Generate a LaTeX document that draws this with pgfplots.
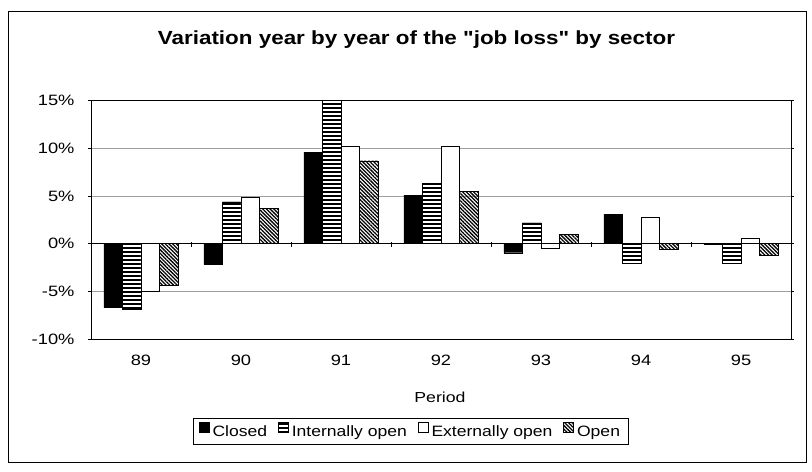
\documentclass[border=0pt]{standalone}
\usepackage{fontspec}
\setmainfont{Liberation Sans}[Ligatures=TeXOff]
\usepackage{graphicx}
\usepackage{pgfplots}
\pgfplotsset{compat=1.18}
\usetikzlibrary{patterns,patterns.meta}
\newcommand{\sx}[1]{\scalebox{1.22}[1]{#1}}
\newcommand{\slg}[1]{\scalebox{1.17}[1]{#1}}
\pgfdeclarepatternformonly{hstripes}{\pgfpoint{-1pt}{0pt}}{\pgfpoint{101pt}{4pt}}{\pgfpoint{100pt}{4pt}}{%
  \pgfpathrectangle{\pgfpoint{-1pt}{1.2pt}}{\pgfpoint{102pt}{1.5pt}}\pgfusepath{fill}}
\begin{document}
\begin{tikzpicture}
\begin{axis}[
  scale only axis,
  width=700pt, height=238.3pt,
  xmin=-0.5, xmax=6.5,
  ymin=-10, ymax=15,
  ybar=0pt, bar width=18.6pt,
  xtick=data,
  xticklabels={\sx{89},\sx{90},\sx{91},\sx{92},\sx{93},\sx{94},\sx{95}},
  x tick style={draw=none},
  ytick={-10,-5,0,5,10,15},
  yticklabels={\sx{-10\%},\sx{-5\%},\sx{0\%},\sx{5\%},\sx{10\%},\sx{15\%}},
  y tick style={black, thin},
  tick align=outside,
  major tick length=3pt,
  ymajorgrids,
  grid style={gray!75, line width=0.7pt},
  axis line style={black, line width=0.9pt},
  tick label style={font=\fontsize{15}{17}\selectfont},
  yticklabel style={xshift=-10pt},
  xticklabel style={yshift=-9pt},
  xlabel={\sx{Period}},
  xlabel style={font=\fontsize{14.5}{16}\selectfont, at={(0.5,0)}, anchor=base, yshift=-64pt, xshift=-1pt},
  title={\scalebox{1.18}[1]{\textbf{Variation year by year of the "job loss" by sector}}},
  title style={font=\fontsize{19}{22}\selectfont, at={(0.5,1)}, anchor=base, yshift=49.7pt, xshift=-24.5pt},
  legend columns=4,
  legend style={at={(0.4564,-0.3861)}, anchor=center, draw=black, line width=0.6pt,
    font=\fontsize{15}{17}\selectfont, inner xsep=6pt, inner ysep=4pt,
    /tikz/every odd column/.append style={column sep=1pt},
    /tikz/every even column/.append style={column sep=9pt}},
  legend image code/.code={\draw[#1, line width=0.6pt] (0pt,-0.5pt) rectangle (10pt,9.5pt);},
  clip=false,
]
\addplot[fill=black, draw=black] coordinates {(0,-6.7) (1,-2.2) (2,9.6) (3,5.1) (4,-0.95) (5,3.1) (6,-0.1)};
\addplot[draw=black, fill=black, postaction={pattern=hstripes, pattern color=white}] coordinates {(0,-6.9) (1,4.4) (2,15) (3,6.35) (4,2.2) (5,-2.1) (6,-2.1)};
\addplot[draw=black, fill=white, line width=0.9pt] coordinates {(0,-5.0) (1,4.8) (2,10.2) (3,10.2) (4,-0.5) (5,2.8) (6,0.5)};
\addplot[draw=black, pattern={Lines[angle=-45, distance=2.6pt, line width=1.3pt]}] coordinates {(0,-4.4) (1,3.7) (2,8.7) (3,5.5) (4,1.0) (5,-0.6) (6,-1.2)};
\legend{\slg{Closed},\slg{Internally open},\slg{Externally open},\slg{Open}}
\draw[black, line width=0.7pt] (axis cs:-0.5,0) -- (axis cs:6.5,0);
\pgfplotsinvokeforeach{0.5,1.5,2.5,3.5,4.5,5.5}{\draw[black, line width=0.7pt] ([yshift=-3pt]axis cs:#1,0) -- ([yshift=2pt]axis cs:#1,0);}
\end{axis}
\draw[black, line width=0.9pt] ([xshift=-83pt, yshift=89pt]current axis.north west) rectangle ([xshift=15pt, yshift=-123pt]current axis.south east);
\path ([xshift=-91pt, yshift=100.7pt]current axis.north west) rectangle ([xshift=21pt, yshift=-133pt]current axis.south east);
\end{tikzpicture}
\end{document}
